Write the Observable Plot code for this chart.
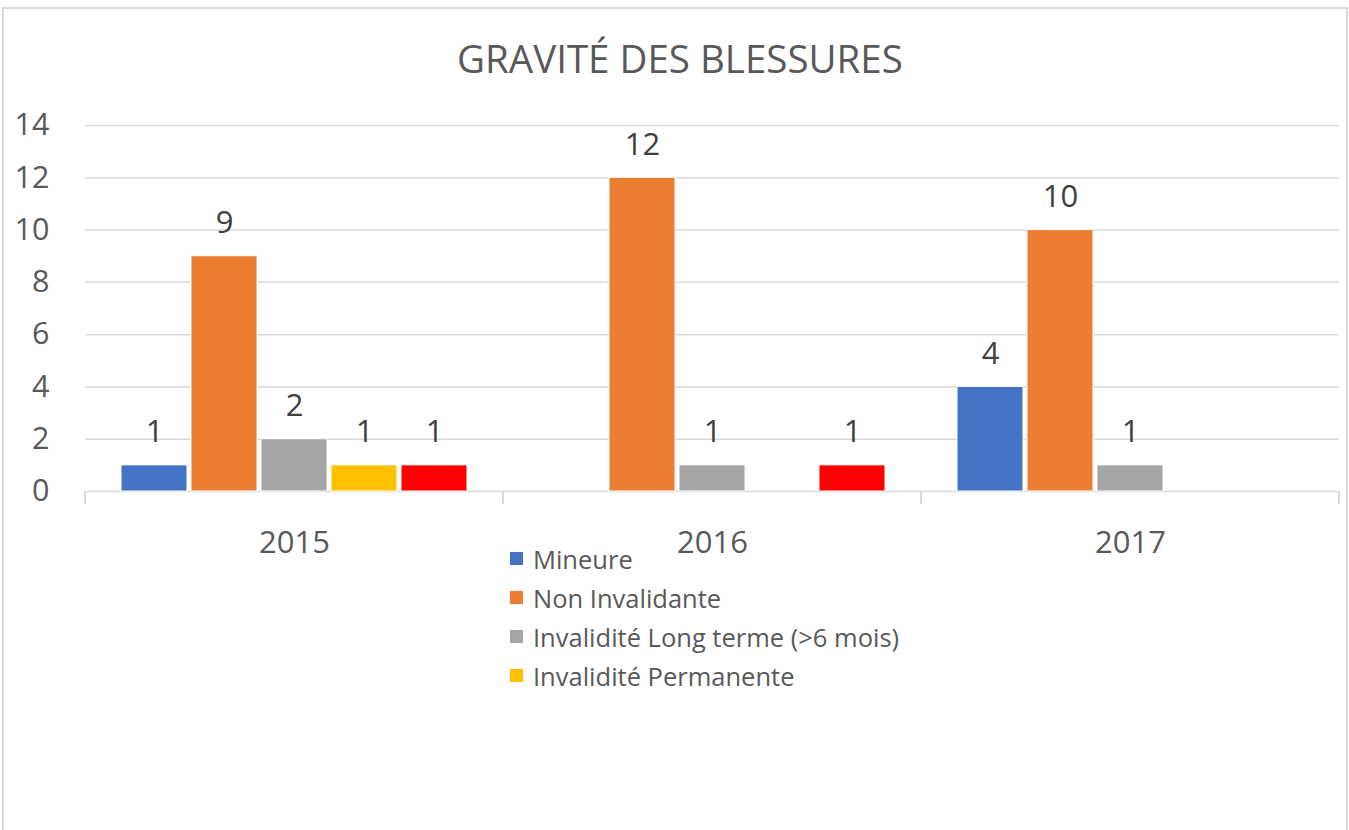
<!DOCTYPE html>
<html>
<head>
<meta charset="utf-8">
<script src="https://cdn.jsdelivr.net/npm/d3@7"></script>
<script src="https://cdn.jsdelivr.net/npm/@observablehq/plot@0.6"></script>
<style>
  html, body { margin: 0; padding: 0; background: #fff; }
  #wrap { position: relative; width: 1349px; height: 830px; overflow: hidden; font-family: "Open Sans", sans-serif; }
  #frame { position: absolute; left: 2px; top: 7px; width: 1346px; height: 840px; border: 2px solid #d9d9d9; border-bottom: none; box-sizing: border-box; }
  #title { position: absolute; left: 0; width: 1360px; top: 32px; text-align: center; font-size: 38.5px; color: #595959; line-height: 52px; }
  #chart { position: absolute; left: 0; top: 0; }
  #legend { position: absolute; left: 510px; top: 539px; color: #595959; font-size: 25.5px; }
  .row { display: flex; align-items: center; height: 39px; white-space: nowrap; }
  .sw { width: 13px; height: 13px; margin-right: 10px; flex: none; }
</style>
</head>
<body>
<div id="wrap">
  <div id="frame"></div>
  <div id="title">GRAVITÉ DES BLESSURES</div>
  <div id="chart"></div>
  <div id="legend"></div>
</div>
<script>
// ---- data ----
const years = ["2015", "2016", "2017"];
const series = ["Mineure", "Non Invalidante", "Invalidité Long terme (>6 mois)", "Invalidité Permanente", "Décès"];
const colors = ["#4472C4", "#ED7D31", "#A5A5A5", "#FFC000", "#FF0000"];
const mineure = [1, null, 4];
const nonInvalidante = [9, 12, 10];
const longTerme = [2, 1, 1];
const permanente = [1, null, null];
const deces = [1, 1, null];
const yTicks = [0, 2, 4, 6, 8, 10, 12, 14];
const legendShown = 4; // legend is clipped after the 4th entry in the reference

const valuesBySeries = [mineure, nonInvalidante, longTerme, permanente, deces];
const data = [];
years.forEach((yr, i) => {
  series.forEach((s, j) => {
    const v = valuesBySeries[j][i];
    if (v != null) data.push({year: yr, series: s, value: v});
  });
});

const W = 1349, H = 560;
const chart = Plot.plot({
  width: W,
  height: H,
  marginLeft: 84,
  marginRight: 10,
  marginTop: 125,
  marginBottom: 69,
  style: {fontFamily: "'Open Sans', sans-serif", fontSize: "30px", color: "#595959", background: "transparent", overflow: "visible"},
  fx: {domain: years, paddingInner: 0, paddingOuter: 0, label: null},
  x: {domain: series, paddingInner: 0.06, paddingOuter: 0.51, axis: null},
  y: {domain: [0, 14], ticks: yTicks, label: null},
  color: {domain: series, range: colors},
  marks: [
    Plot.gridY(yTicks.filter(d => d > 0), {stroke: "#d9d9d9", strokeOpacity: 1, strokeWidth: 1.5}),
    Plot.ruleY([0], {stroke: "#d9d9d9", strokeWidth: 1.5}),
    Plot.axisY(yTicks, {tickSize: 0, tickPadding: 36, fontSize: 30.5, fill: "#595959", label: null}),
    Plot.axisFx({anchor: "bottom", tickSize: 0, tickPadding: 39, fontSize: 31, fill: "#595959", label: null}),
    Plot.barY(data, {fx: "year", x: "series", y: "value", fill: "series", stroke: "white", strokeWidth: 1}),
    Plot.text(data, {fx: "year", x: "series", y: "value", text: d => String(d.value), dy: -33, fontSize: 31, fill: "#404040"})
  ]
});

// category separator ticks at band boundaries, from the fx and y scales
const fx = chart.scale("fx");
const ys = chart.scale("y");
const y0 = ys.apply(0);
const bounds = years.map(yr => fx.apply(yr));
bounds.push(fx.apply(years[years.length - 1]) + fx.bandwidth);
const g = d3.select(chart).append("g").attr("stroke", "#d9d9d9").attr("stroke-width", 2);
bounds.forEach(bx => {
  g.append("line").attr("x1", bx).attr("x2", bx).attr("y1", y0).attr("y2", y0 + 13);
});

document.getElementById("chart").appendChild(chart);

// legend
const leg = document.getElementById("legend");
series.slice(0, legendShown).forEach((s, i) => {
  const row = document.createElement("div");
  row.className = "row";
  const sw = document.createElement("span");
  sw.className = "sw";
  sw.style.background = colors[i];
  const t = document.createElement("span");
  t.textContent = s;
  row.appendChild(sw);
  row.appendChild(t);
  leg.appendChild(row);
});
</script>
</body>
</html>
